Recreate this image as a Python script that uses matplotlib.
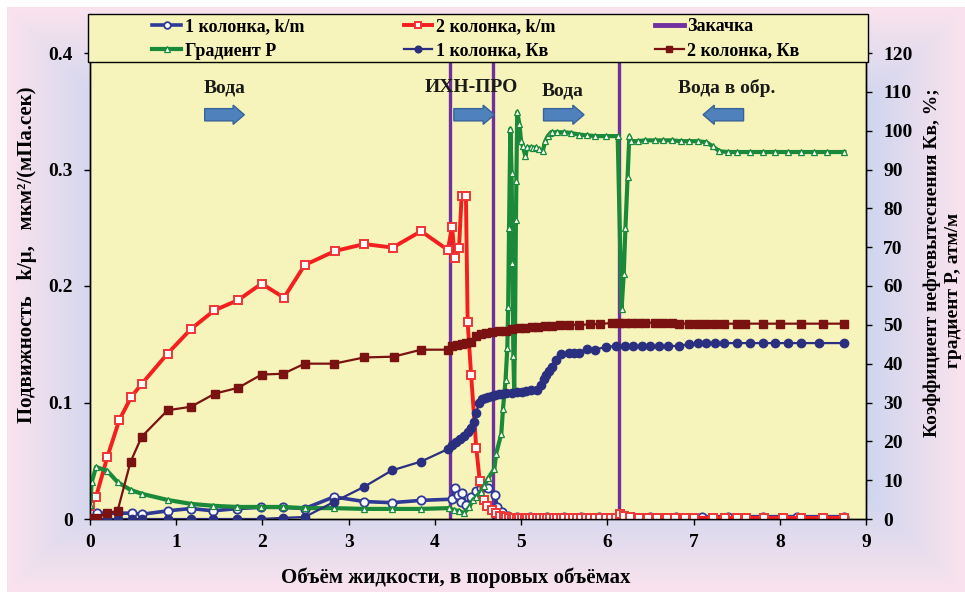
import numpy as np
import matplotlib
matplotlib.use('Agg')
import matplotlib.pyplot as plt
from matplotlib.patches import Rectangle, FancyArrow

plt.rcParams['font.family'] = ['Liberation Serif', 'DejaVu Serif']
plt.rcParams['font.weight'] = 'bold'

# 1 колонка, k/m  (left axis)
km1_x = [0.00, 0.08, 0.32, 0.49, 0.60, 0.90, 1.17, 1.43, 1.71, 1.98,
         2.24, 2.49, 2.83, 3.18, 3.50, 3.84, 4.20, 4.23, 4.27, 4.30,
         4.32, 4.36, 4.42, 4.48, 4.54, 4.62, 4.70, 4.72, 4.78, 4.85,
         4.95, 5.10, 5.30, 5.50, 5.70, 5.90, 6.13, 6.30, 6.50, 6.80,
         7.10, 7.40, 7.80, 8.20, 8.75]
km1_y = [0.005, 0.005, 0.005, 0.005, 0.004, 0.007, 0.009, 0.007, 0.009, 0.010,
         0.010, 0.009, 0.019, 0.015, 0.014, 0.016, 0.017, 0.027, 0.021, 0.015,
         0.022, 0.012, 0.019, 0.024, 0.027, 0.027, 0.021, 0.010, 0.006, 0.003,
         0.002, 0.002, 0.002, 0.002, 0.002, 0.002, 0.003, 0.002, 0.002, 0.002,
         0.002, 0.002, 0.002, 0.002, 0.002]

# 2 колонка, k/m  (left axis)
km2_x = [0.00, 0.07, 0.20, 0.34, 0.48, 0.60, 0.90, 1.17, 1.44, 1.72,
         1.99, 2.25, 2.49, 2.84, 3.18, 3.51, 3.84, 4.15, 4.20, 4.23,
         4.28, 4.31, 4.36, 4.38, 4.42, 4.48, 4.52, 4.57, 4.61, 4.66,
         4.71, 4.76, 4.80, 4.83, 4.86, 4.89, 4.92, 4.95, 4.98, 5.01,
         5.04, 5.07, 5.10, 5.14, 5.18, 5.22, 5.26, 5.30, 5.34, 5.38,
         5.42, 5.46, 5.50, 5.55, 5.60, 5.65, 5.70, 5.75, 5.80, 5.86,
         5.92, 5.98, 6.04, 6.10, 6.15, 6.19, 6.26, 6.37, 6.47, 6.58,
         6.69, 6.79, 6.90, 7.00, 7.22, 7.36, 7.50, 7.61, 7.82, 8.04,
         8.25, 8.50, 8.75]
km2_y = [0.011, 0.019, 0.053, 0.085, 0.105, 0.116, 0.142, 0.163, 0.179, 0.188,
         0.202, 0.190, 0.218, 0.230, 0.236, 0.233, 0.247, 0.231, 0.251, 0.224,
         0.233, 0.277, 0.277, 0.169, 0.124, 0.061, 0.033, 0.016, 0.011, 0.008,
         0.005, 0.003, 0.002, 0.002, 0.001, 0.001, 0.001, 0.001, 0.001, 0.001,
         0.001, 0.001, 0.001, 0.001, 0.001, 0.001, 0.001, 0.001, 0.001, 0.001,
         0.001, 0.001, 0.001, 0.001, 0.001, 0.001, 0.001, 0.001, 0.001, 0.001,
         0.001, 0.001, 0.001, 0.001, 0.004, 0.003, 0.002, 0.001, 0.001, 0.001,
         0.001, 0.001, 0.001, 0.001, 0.001, 0.001, 0.001, 0.001, 0.001, 0.001,
         0.001, 0.001, 0.001]

# Градиент P  (right axis)
gp_x = [0.00, 0.02, 0.07, 0.20, 0.32, 0.47, 0.60, 0.90, 1.17, 1.43,
        1.71, 1.98, 2.24, 2.49, 2.83, 3.18, 3.50, 3.84, 4.16, 4.22,
        4.28, 4.34, 4.40, 4.44, 4.48, 4.53, 4.57, 4.62, 4.69, 4.71,
        4.77, 4.79, 4.82, 4.84, 4.85, 4.86, 4.875, 4.89, 4.90, 4.91,
        4.92, 4.93, 4.94, 4.945, 4.955, 4.98, 5.00, 5.02, 5.05, 5.07,
        5.11, 5.14, 5.17, 5.21, 5.25, 5.28, 5.31, 5.34, 5.36, 5.42,
        5.50, 5.58, 5.67, 5.76, 5.86, 5.99, 6.12, 6.165, 6.19, 6.21,
        6.235, 6.255, 6.28, 6.35, 6.44, 6.55, 6.65, 6.75, 6.85, 6.95,
        7.05, 7.15, 7.22, 7.30, 7.40, 7.50, 7.65, 7.80, 7.95, 8.10,
        8.25, 8.40, 8.55, 8.75]
gp_v = [3.6, 9.5, 13.4, 12.4, 9.5, 7.5, 6.5, 4.9, 3.9, 3.4,
        3.1, 3.1, 3.1, 2.8, 2.8, 2.6, 2.6, 2.6, 2.8, 2.3,
        2.1, 1.5, 3.1, 4.9, 5.7, 7.0, 8.5, 10.6, 12.9, 16.8,
        21.9, 28.4, 35.9, 44.1, 54.7, 75.0, 100.5, 89.0, 66.0, 42.0,
        33.0, 50.0, 77.0, 87.0, 104.8, 101.7, 97.3, 96.0, 93.4, 95.7,
        95.7, 95.5, 95.7, 95.2, 94.7, 97.3, 98.6, 99.4, 99.6, 99.6,
        99.6, 99.4, 99.0, 98.8, 98.6, 98.6, 98.6, 54.0, 63.0, 75.0,
        88.0, 98.6, 97.3, 97.3, 97.5, 97.5, 97.5, 97.5, 97.3, 97.3,
        97.3, 97.0, 96.0, 94.7, 94.5, 94.5, 94.5, 94.5, 94.5, 94.5,
        94.5, 94.5, 94.5, 94.5]

# 1 колонка, Кв  (right axis)
kv1_x = [0.00, 0.08, 0.20, 0.32, 0.49, 0.60, 0.90, 1.17, 1.43, 1.71,
         1.98, 2.24, 2.49, 2.83, 3.18, 3.50, 3.84, 4.15, 4.20, 4.24,
         4.29, 4.34, 4.38, 4.42, 4.45, 4.48, 4.51, 4.55, 4.58, 4.62,
         4.66, 4.70, 4.74, 4.78, 4.83, 4.89, 4.95, 5.01, 5.06, 5.12,
         5.19, 5.23, 5.26, 5.29, 5.32, 5.36, 5.41, 5.46, 5.55, 5.61,
         5.67, 5.76, 5.86, 5.99, 6.10, 6.20, 6.30, 6.40, 6.50, 6.60,
         6.70, 6.83, 6.95, 7.05, 7.15, 7.25, 7.35, 7.50, 7.65, 7.80,
         7.95, 8.10, 8.25, 8.45, 8.75]
kv1_v = [0, 0, 0, 0, 0, 0, 0, 0, 0, 0,
         0, 0.3, 0.5, 4.4, 8.3, 12.5, 14.8, 18.0, 19.0, 19.9,
         20.7, 21.4, 22.5, 23.5, 25.0, 27.3, 29.9, 31.0, 31.2, 31.5,
         31.6, 32.0, 32.2, 32.3, 32.4, 32.5, 32.6, 32.8, 32.9, 33.1,
         33.3, 34.6, 36.0, 37.2, 38.2, 39.2, 41.0, 42.6, 42.8, 42.8,
         42.8, 43.9, 43.6, 44.4, 44.5, 44.5, 44.5, 44.5, 44.5, 44.5,
         44.5, 44.6, 45.0, 45.3, 45.3, 45.3, 45.3, 45.3, 45.3, 45.3,
         45.3, 45.3, 45.3, 45.3, 45.3]

# 2 колонка, Кв  (right axis)
kv2_x = [0.00, 0.08, 0.20, 0.32, 0.47, 0.60, 0.90, 1.17, 1.45, 1.72,
         1.99, 2.24, 2.49, 2.83, 3.18, 3.52, 3.84, 4.15, 4.20, 4.26,
         4.31, 4.36, 4.42, 4.48, 4.53, 4.59, 4.66, 4.74, 4.82, 4.90,
         4.97, 5.05, 5.13, 5.20, 5.28, 5.36, 5.45, 5.55, 5.67, 5.80,
         5.92, 6.05, 6.13, 6.20, 6.27, 6.35, 6.44, 6.55, 6.65, 6.75,
         6.83, 6.95, 7.05, 7.15, 7.25, 7.35, 7.50, 7.60, 7.80, 8.00,
         8.25, 8.50, 8.75]
kv2_v = [0.3, 0.3, 1.5, 2.1, 14.7, 21.2, 28.0, 28.9, 32.3, 33.8,
         37.2, 37.4, 40.0, 40.0, 41.6, 41.8, 43.6, 43.6, 44.6, 44.9,
         45.0, 45.2, 45.7, 47.0, 47.7, 48.0, 48.1, 48.3, 48.5, 48.8,
         49.2, 49.3, 49.4, 49.5, 49.6, 49.8, 49.9, 50.0, 50.0, 50.1,
         50.2, 50.5, 50.6, 50.6, 50.6, 50.6, 50.6, 50.5, 50.5, 50.4,
         50.3, 50.3, 50.3, 50.3, 50.3, 50.3, 50.3, 50.3, 50.3, 50.3,
         50.3, 50.3, 50.3]

# Закачка
inject_x = [4.17, 4.67, 6.13]

stages = [("Вода", 1.56, 0.370, 1.33, 1.79),
          ("ИХН-ПРО", 4.42, 0.370, 4.22, 4.69),
          ("Вода", 5.48, 0.367, 5.26, 5.73),
          ("Вода в обр.", 7.38, 0.370, 7.58, 7.11)]

xticks = [0, 1, 2, 3, 4, 5, 6, 7, 8, 9]
yticks_l = [0, 0.1, 0.2, 0.3, 0.4]
ylabels_l = ['0', '0.1', '0.2', '0.3', '0.4']
yticks_r = [0, 10, 20, 30, 40, 50, 60, 70, 80, 90, 100, 110, 120]

W, H = 965, 592
fig = plt.figure(figsize=(W / 100, H / 100), dpi=100)

# gradient background (pink edges -> lavender inside)
bg = fig.add_axes([0, 0, 1, 1], zorder=-10)
yy, xx = np.mgrid[0:H, 0:W]
d = np.minimum.reduce([xx - 7, W - 1 - xx, yy - 7, H - 1 - yy]).astype(float)
t = np.clip(d / 110.0, 0, 1)[..., None]
pink = np.array([0.98, 0.89, 0.93])
blue = np.array([0.79, 0.83, 0.94])
img = pink * (1 - t) + blue * t
img[(xx < 7) | (yy < 7)] = 1.0
bg.imshow(img, aspect='auto', interpolation='bilinear')
bg.axis('off')

ax = fig.add_axes([90 / W, 73 / H, 776 / W, 466 / H])
ax.set_facecolor('#F6F4BA')
ax2 = ax.twinx()

for xv in inject_x:
    ax.axvline(xv, color='#7030A0', lw=2.4, zorder=1)

l1, = ax.plot(km1_x, km1_y, color='#2F3A96', lw=2.6, marker='o', ms=6,
              mfc='white', mec='#2F3A96', mew=1.3, zorder=2, label='1 колонка, k/m')
l2, = ax.plot(km2_x, km2_y, color='#F41E1E', lw=2.8, marker='s', ms=6,
              mfc='white', mec='#F03535', mew=1.4, zorder=3, label='2 колонка, k/m')

l4, = ax2.plot(gp_x, gp_v, color='#1A8A3A', lw=3.0, marker='^', ms=5,
               mfc='white', mec='#1A8A3A', mew=0.9, zorder=2, label='Градиент P')
l5, = ax2.plot(kv1_x, kv1_v, color='#2B2F7F', lw=1.6, marker='o', ms=6,
               mfc='#2B2F7F', mec='#2B2F7F', zorder=3, label='1 колонка, Кв')
l6, = ax2.plot(kv2_x, kv2_v, color='#7A1212', lw=1.6, marker='s', ms=6,
               mfc='#7A1212', mec='#7A1212', zorder=3, label='2 колонка, Кв')
l3 = plt.Line2D([], [], color='#7030A0', lw=3.5, label='Закачка')

ax.set_xlim(0, 9)
ax.set_ylim(0, 0.4)
ax2.set_ylim(0, 120)
ax.set_xticks(xticks)
ax.set_yticks(yticks_l)
ax.set_yticklabels(ylabels_l)
ax2.set_yticks(yticks_r)
ax.tick_params(axis='x', direction='out', length=4, width=1, labelsize=14, pad=7)
ax.tick_params(axis='y', direction='out', length=4.5, width=1, labelsize=14, pad=8)
ax2.tick_params(axis='y', direction='out', length=4.5, width=1, labelsize=14, pad=8)
for a in (ax, ax2):
    for s in a.spines.values():
        s.set_color('black')
        s.set_linewidth(1)

# stage labels with block arrows
for name, tx, ty, x0, x1 in stages:
    ax.text(tx, ty, name, ha='center', va='center', fontsize=14,
            color='#1a1a1a', zorder=6)
    ax.add_patch(FancyArrow(x0, 0.347, x1 - x0, 0, width=0.0105,
                            head_width=0.0165, head_length=0.13,
                            length_includes_head=True, facecolor='#4F81BD',
                            edgecolor='#36639A', lw=1, zorder=6))

# legend box overlapping the top of the plot
fig.patches.append(Rectangle((88 / W, 1 - 62 / H), 780 / W, 48 / H,
                             transform=fig.transFigure, facecolor='#F6F4BA',
                             edgecolor='black', lw=1, zorder=9))
leg = fig.legend([l1, l4, l2, l5, l3, l6],
                 [h.get_label() for h in [l1, l4, l2, l5, l3, l6]],
                 loc='center', bbox_to_anchor=(476 / W, 1 - 39 / H), ncol=3,
                 frameon=False, fontsize=13, handlelength=1.6, handletextpad=0.2,
                 columnspacing=5.5, labelspacing=0.4, numpoints=1, markerscale=0.8)
leg.set_zorder(10)

fig.text(27 / W, 1 - 255 / H, 'Подвижность   k/μ,   мкм²/(мПа.сек)', rotation=90,
         ha='center', va='center', fontsize=15)
fig.text(932 / W, 1 - 263 / H, 'Коэффициент нефтевытеснения Кв, %;', rotation=90,
         ha='center', va='center', fontsize=14)
fig.text(953 / W, 1 - 290 / H, 'градиент P, атм/м', rotation=90,
         ha='center', va='center', fontsize=14)
fig.text(456 / W, 1 - 578 / H, 'Объём жидкости, в поровых объёмах',
         ha='center', va='center', fontsize=15)

fig.savefig('out.png', dpi=100)
